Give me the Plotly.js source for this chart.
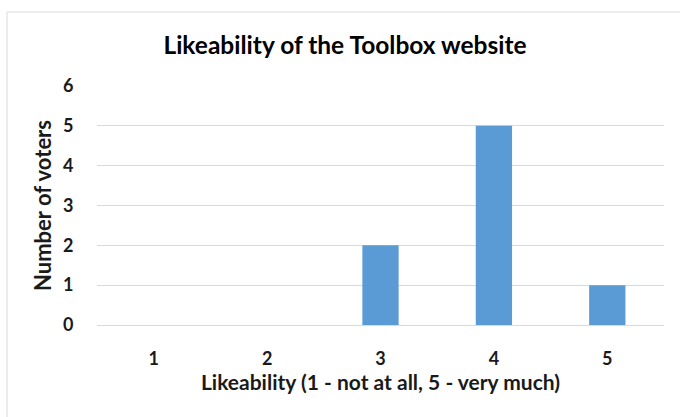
<!DOCTYPE html>
<html><head><meta charset="utf-8">
<script src="https://cdn.plot.ly/plotly-3.0.1.min.js"></script>
<style>html,body{margin:0;padding:0;background:#fff}#c{width:680px;height:417px}</style>
</head><body><div id="c"></div>
<script>
const categories = ['1','2','3','4','5'];
const voters = [0, 0, 2, 5, 1];
const yTicks = [0,1,2,3,4,5,6];

const W = 680, H = 417;
const m = {l: 97, r: 16, t: 86, b: 92};
const pw = W - m.l - m.r, ph = H - m.t - m.b;
const font = 'Lato, "Open Sans", sans-serif';

const trace = {
  type: 'bar', x: categories, y: voters,
  marker: {color: '#5b9bd5', line: {width: 0}},
  hoverinfo: 'none'
};

const layout = {
  width: W, height: H,
  margin: m,
  paper_bgcolor: '#fff', plot_bgcolor: '#fff',
  bargap: 0.68,
  showlegend: false,
  font: {family: font, color: '#1a1a1a'},
  title: {text: '<b>Likeability of the Toolbox website</b>', font: {family: font, size: 24.5, color: '#000'},
          x: 345/W, xanchor: 'center', xref: 'container', y: 1 - 45/H, yanchor: 'middle', yref: 'container'},
  xaxis: {
    type: 'category', range: [-0.5, 4.5],
    showgrid: false, zeroline: false, showline: false,
    ticks: 'outside', ticklen: 17, tickcolor: 'rgba(0,0,0,0)',
    tickfont: {family: font, size: 18, color: '#1a1a1a', weight: 'bold'},
    title: {text: '<b>Likeability (1 - not at all, 5 - very much)</b>', font: {family: font, size: 21, color: '#1a1a1a'}, standoff: 6}
  },
  yaxis: {
    range: [0, 6], tickvals: yTicks, ticktext: yTicks.map(String),
    showgrid: true, gridcolor: '#d9d9d9', gridwidth: 1,
    zeroline: true, zerolinecolor: '#d9d9d9', zerolinewidth: 1,
    showline: false,
    ticks: 'outside', ticklen: 19, tickcolor: 'rgba(0,0,0,0)',
    tickfont: {family: font, size: 18, color: '#1a1a1a', weight: 'bold'},
    title: {text: '<b>Number of voters</b>', font: {family: font, size: 22, color: '#1a1a1a'}, standoff: 5}
  },
  shapes: [{
    type: 'rect', xref: 'paper', yref: 'paper',
    x0: (7 - m.l)/pw, x1: (W + 10 - m.l)/pw,
    y0: -(m.b + 10)/ph, y1: (H - 12 - m.b)/ph,
    line: {color: '#d9d9d9', width: 1}, fillcolor: 'rgba(0,0,0,0)', layer: 'below'
  }]
};

Plotly.newPlot('c', [trace], layout, {staticPlot: true, displayModeBar: false});
</script></body></html>
